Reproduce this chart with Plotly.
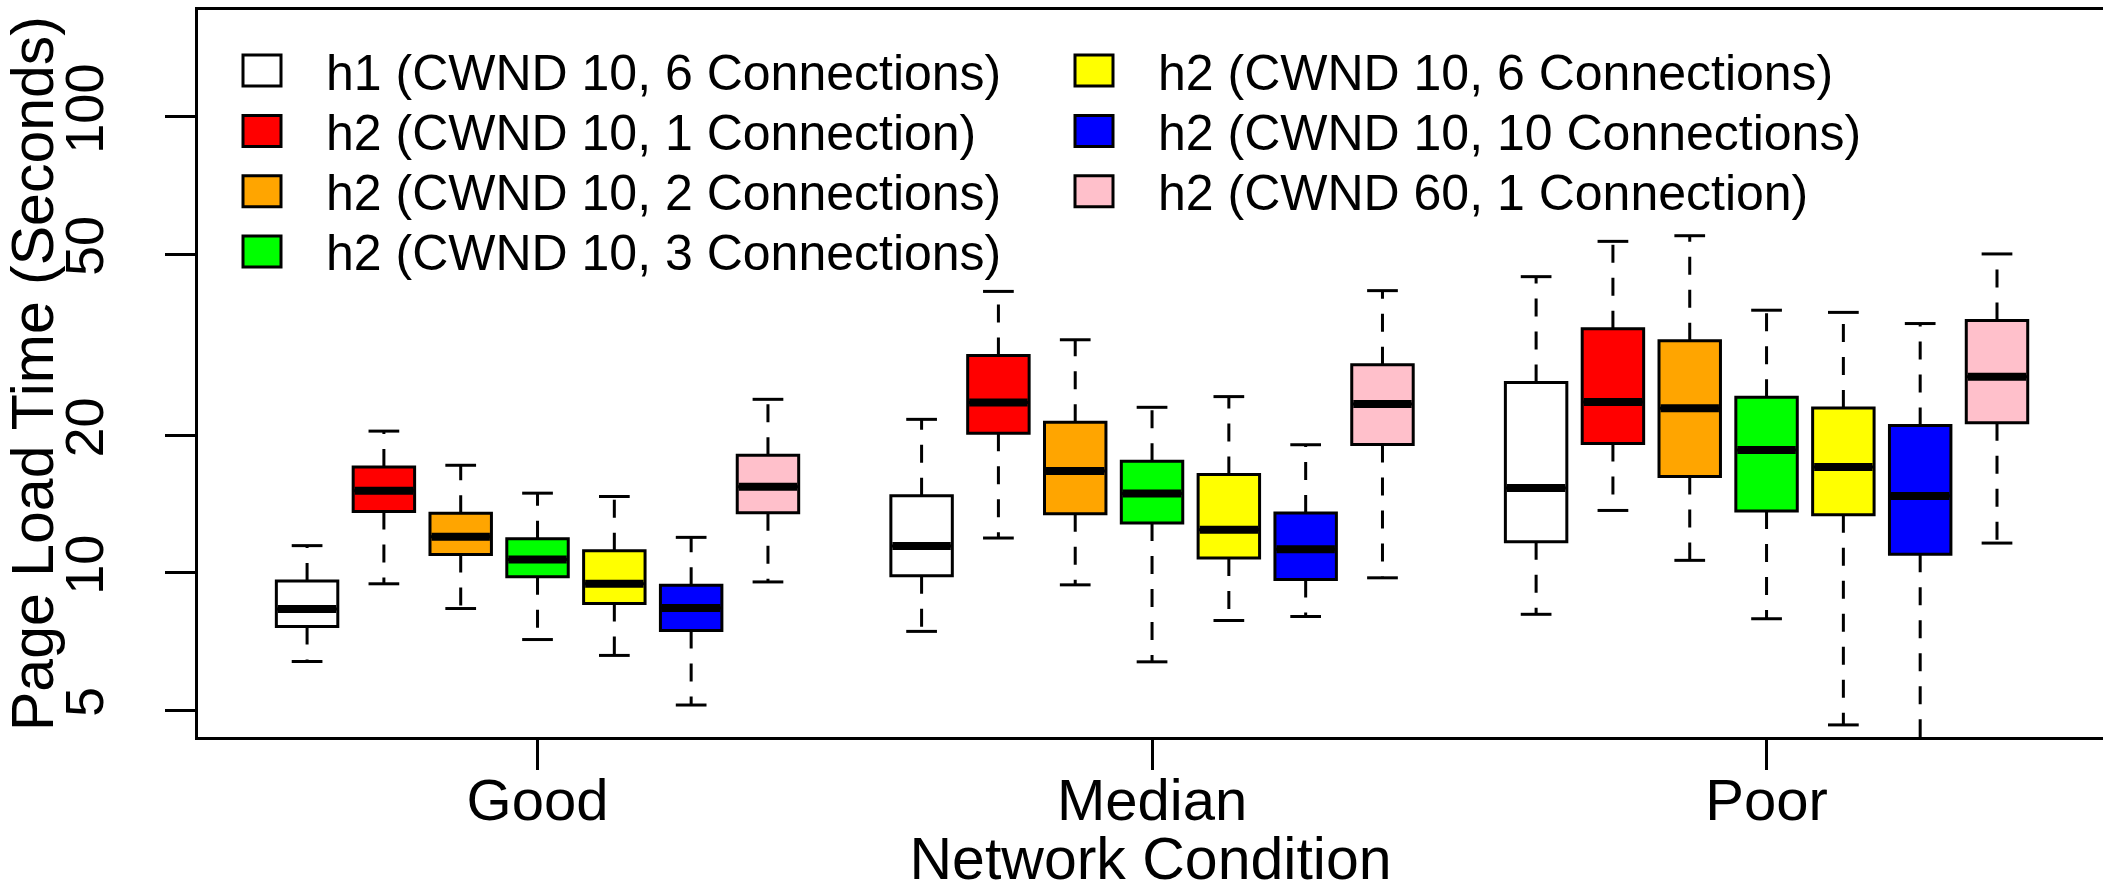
import plotly.graph_objects as go

# ---------------- data ----------------
series = [
    "h1 (CWND 10, 6 Connections)",
    "h2 (CWND 10, 1 Connection)",
    "h2 (CWND 10, 2 Connections)",
    "h2 (CWND 10, 3 Connections)",
    "h2 (CWND 10, 6 Connections)",
    "h2 (CWND 10, 10 Connections)",
    "h2 (CWND 60, 1 Connection)",
]
colors = ["#FFFFFF", "#FF0000", "#FFA500", "#00FF00", "#FFFF00", "#0000FF", "#FFC0CB"]
conditions = ["Good", "Median", "Poor"]

# each row = one network condition, each column = one series
lower = [
    [6.39, 9.46, 8.35, 7.14, 6.59, 5.13, 9.55],
    [7.44, 11.92, 9.41, 6.38, 7.86, 8.02, 9.75],
    [8.11, 13.70, 10.65, 7.93, 4.64, 4.20, 11.62],
]
q1 = [
    [7.63, 13.62, 10.97, 9.80, 8.56, 7.47, 13.55],
    [9.85, 20.22, 13.48, 12.86, 10.77, 9.67, 19.12],
    [11.70, 19.21, 16.27, 13.67, 13.41, 10.98, 21.34],
]
median = [
    [8.33, 15.13, 12.00, 10.70, 9.46, 8.37, 15.44],
    [11.45, 23.62, 16.71, 14.92, 12.43, 11.27, 23.46],
    [15.35, 23.70, 22.94, 18.60, 17.05, 14.73, 26.90],
]
q3 = [
    [9.60, 17.06, 13.51, 11.88, 11.18, 9.39, 18.10],
    [14.75, 29.96, 21.38, 17.57, 16.43, 13.53, 28.58],
    [26.13, 34.28, 32.28, 24.26, 22.98, 21.03, 35.73],
]
upper = [
    [11.47, 20.45, 17.21, 14.95, 14.70, 11.96, 24.01],
    [21.70, 41.40, 32.43, 23.06, 24.34, 19.09, 41.56],
    [44.60, 53.30, 54.84, 37.65, 37.24, 35.20, 50.02],
]
y_ticks = [5, 10, 20, 50, 100]
y_ticklabels = ["5", "10", "20", "50", "100"]

# ---------------- layout constants ----------------
W, H = 2103, 892
ML, MT, MB, MR = 198, 10, 155, 0
FONT = "Liberation Sans, Arial, sans-serif"
BOXW = 0.8
CAPW = 0.4
GROUP_STEP = 8

fig = go.Figure()

for s, (name, col) in enumerate(zip(series, colors)):
    xs = [c * GROUP_STEP + s + 1 for c in range(len(conditions))]
    q1s = [q1[c][s] for c in range(len(conditions))]
    meds = [median[c][s] for c in range(len(conditions))]
    q3s = [q3[c][s] for c in range(len(conditions))]
    los = [lower[c][s] for c in range(len(conditions))]
    his = [upper[c][s] for c in range(len(conditions))]

    # dashed whiskers
    wx, wy = [], []
    for x, a, b, lo, hi in zip(xs, q1s, q3s, los, his):
        wx += [x, x, None, x, x, None]
        wy += [b, hi, None, a, lo, None]
    fig.add_trace(go.Scatter(x=wx, y=wy, mode="lines", showlegend=False,
                             line=dict(color="black", width=3, dash="18px,15px"),
                             hoverinfo="skip"))
    # caps
    cx, cy = [], []
    for x, lo, hi in zip(xs, los, his):
        cx += [x - CAPW / 2, x + CAPW / 2, None, x - CAPW / 2, x + CAPW / 2, None]
        cy += [hi, hi, None, lo, lo, None]
    fig.add_trace(go.Scatter(x=cx, y=cy, mode="lines", showlegend=False,
                             line=dict(color="black", width=3), hoverinfo="skip"))
    # boxes
    fig.add_trace(go.Box(x=xs, q1=q1s, median=meds, q3=q3s,
                         lowerfence=q1s, upperfence=q3s,
                         name=name, width=BOXW, whiskerwidth=0,
                         fillcolor=col, line=dict(color="black", width=3),
                         boxpoints=False, showlegend=False))
    # thick median
    mx, my = [], []
    for x, m in zip(xs, meds):
        mx += [x - BOXW / 2 + 0.02, x + BOXW / 2 - 0.02, None]
        my += [m, m, None]
    fig.add_trace(go.Scatter(x=mx, y=my, mode="lines", showlegend=False,
                             line=dict(color="black", width=8), hoverinfo="skip"))

# ---------------- manual legend (two columns) ----------------
pw = W - ML - MR
ph = H - MT - MB


def px_to_paper(px, py):
    return (px - ML) / pw, (H - MB - py) / ph


col_x = [262, 1094]
row_y = [70.5, 131, 191.3, 251.5]
shapes = []
annotations = []
for i, (name, col) in enumerate(zip(series, colors)):
    c = 0 if i < 4 else 1
    r = i if i < 4 else i - 4
    cxp, cyp = col_x[c], row_y[r]
    x0, y0 = px_to_paper(cxp - 19, cyp + 15.5)
    x1, y1 = px_to_paper(cxp + 19, cyp - 15.5)
    shapes.append(dict(type="rect", xref="paper", yref="paper",
                       x0=x0, y0=y0, x1=x1, y1=y1,
                       fillcolor=col, line=dict(color="black", width=3)))
    tx, ty = px_to_paper(cxp + 62, cyp + 2)
    annotations.append(dict(x=tx, y=ty, xref="paper", yref="paper",
                            text=name, showarrow=False, xanchor="left",
                            yanchor="middle",
                            font=dict(family=FONT, size=50, color="black")))

fig.update_layout(
    width=W, height=H,
    margin=dict(l=ML, r=MR, t=MT, b=MB, pad=0),
    paper_bgcolor="white", plot_bgcolor="white",
    showlegend=False,
    font=dict(family=FONT, color="black"),
    shapes=shapes, annotations=annotations,
    boxmode="overlay",
)
fig.update_xaxes(
    range=[-0.42, 24.38],
    tickmode="array",
    tickvals=[c * GROUP_STEP + 4 for c in range(len(conditions))],
    ticktext=conditions,
    ticks="outside", ticklen=30, tickwidth=3, tickcolor="black",
    tickfont=dict(family=FONT, size=58, color="black"),
    ticklabelstandoff=-20,
    showline=True, linecolor="black", linewidth=3, mirror=True,
    showgrid=False, zeroline=False,
    title=dict(text="Network Condition", standoff=20,
               font=dict(family=FONT, size=59, color="black")),
)
fig.update_yaxes(
    type="log",
    range=[0.640, 2.234],
    tickmode="array", tickvals=y_ticks, ticktext=y_ticklabels,
    tickangle=-90,
    ticks="outside", ticklen=30, tickwidth=3, tickcolor="black",
    tickfont=dict(family=FONT, size=54, color="black"),
    ticklabelstandoff=40,
    showline=True, linecolor="black", linewidth=3, mirror=False,
    showgrid=False, zeroline=False,
    title=dict(text="Page Load Time (Seconds)", standoff=8,
               font=dict(family=FONT, size=59, color="black")),
)

fig.write_html("out.html")
